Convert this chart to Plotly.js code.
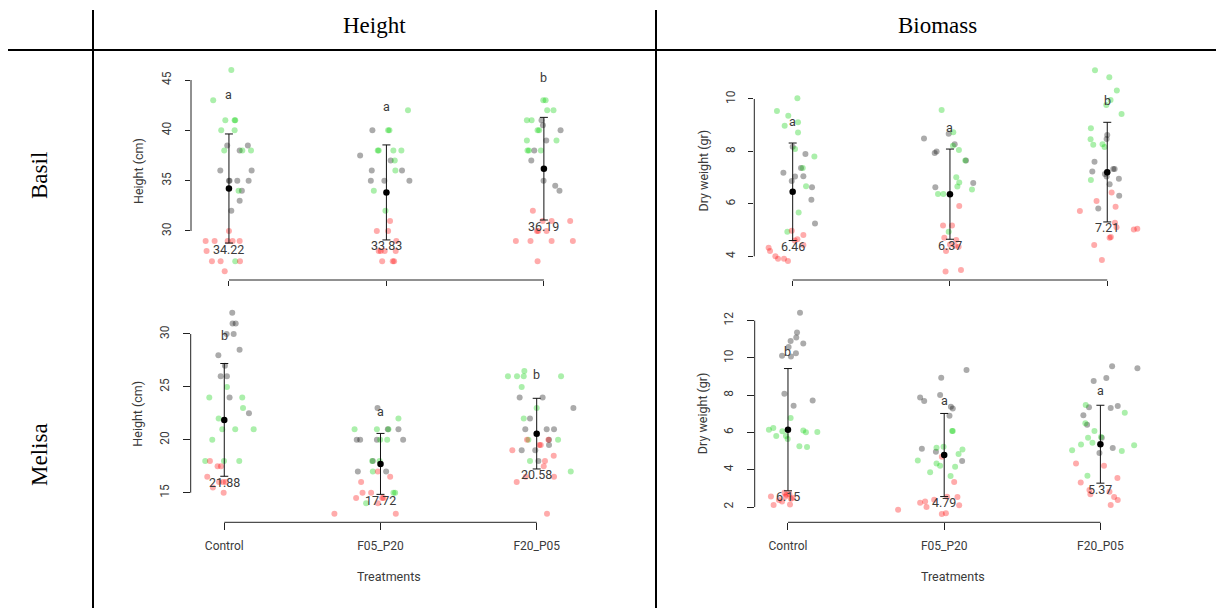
<!DOCTYPE html>
<html>
<head>
<meta charset="utf-8">
<script src="https://cdn.plot.ly/plotly-3.0.1.min.js"></script>
<style>html,body{margin:0;padding:0;background:#fff;}#chart{width:1216px;height:608px;}</style>
</head>
<body>
<div id="chart"></div>
<script>
// ---------------- DATA ----------------
const categories = ['Control', 'F05_P20', 'F20_P05'];
const rowLabels = ['Basil', 'Melisa'];
const colLabels = ['Height', 'Biomass'];
const xTitle = 'Treatments';
const yTitles = ['Height (cm)', 'Dry weight (gr)'];

// Basil - Height
const bhTicks = [30, 35, 40, 45];
const bhMeans = [34.22, 33.83, 36.19];
const bhSds = [5.42, 4.72, 5.10];
const bhLetters = ['a', 'a', 'b'];
const bhLetterY = [43.6, 42.35, 45.26];
const bhRedX = [0.00,-0.148,-0.091,-0.008,0.023,0.068,-0.142,-0.108,-0.053,0.07,-0.027, 1.023,0.939,1.011,1.063,0.951,0.964,0.989,1.059,0.973,1.04,1.049, 1.93,1.992,2.049,2.167,1.956,1.964,2.017,1.822,1.915,2.049,2.184,1.96];
const bhRedY = [30,29,29,29,29,29,28,27,27,27,26, 31,30,30,29,28,28,28,28,27,27,27, 32,31,31,31,30,30,30,29,29,29,29,27];
const bhGreenX = [0.015,-0.10,-0.023,0.036,0.04,-0.049,0.036,-0.03,0.085,0.14,0.061,0.04, 1.137,1.011,1.019,0.951,0.945,1.044,1.095,1.053,1.057,0.92,0.994, 1.996,2.011,2.021,2.061,1.892,1.922,1.96,1.97,1.892,2.08,1.896,1.905,1.981];
const bhGreenY = [46,43,41,41,41,40,40,38,38,38,34,27, 42,40,40,38,38,38,38,37,36,34,32, 43,43,42,42,41,41,40,40,39,39,38,38,38];
const bhGreyX = [-0.011,0.12,0.068,-0.055,0.144,0,0.004,0.053,0.125,0.082,0.068,0.015, 0.911,0.833,1.027,0.907,1.099,0.901,0.987,1.146, 1.985,1.994,2.106,2.015,1.939,1.92,1.998,2.072,2.099];
const bhGreyY = [38.5,38.5,38,36,36,35,35,35,35,34,33,32, 40,37.5,37,36,36,35,35,35, 41,40.5,40,39,38,37,35,34.5,34];

// Basil - Biomass
const bbTicks = [4, 6, 8, 10];
const bbMeans = [6.46, 6.37, 7.21];
const bbSds = [1.86, 1.72, 1.90];
const bbLetters = ['a', 'a', 'b'];
const bbLetterY = [9.14, 8.92, 9.96];
const bbRedX = [-0.153,-0.144,-0.11,-0.093,-0.055,-0.03,-0.006,0.03,0.068,0.068,0.013, 1.059,0.956,1.013,0.964,1.04,1.0,1.032,1.055,0.975,0.972,1.07, 2.028,1.932,2.053,1.826,2.049,2.059,2.169,2.191,2.023,2.015,1.917,1.966];
const bbRedY = [4.33,4.2,4.0,3.91,3.91,3.82,4.97,4.65,4.81,4.43,4.6, 5.92,5.17,5.17,4.71,4.62,4.45,4.4,4.36,4.2,3.42,3.48, 6.43,6.11,5.89,5.73,5.28,5.11,5.02,5.05,4.74,4.71,4.43,3.86];
const bbGreenX = [-0.034,0.038,0.085,0.064,0.138,0.015,0.034,0.034,-0.051,-0.028,-0.1,0.03, 0.947,1.021,1.019,1.057,1.097,1.04,1.059,1.047,0.924,0.958,1.14,0.992, 1.922,2.013,2.061,2.021,1.994,2.091,1.896,1.894,1.911,1.97,1.983,1.896];
const bbGreenY = [4.94,5.67,6.67,7.37,7.81,8.09,8.72,9.11,8.98,9.36,9.54,10.03, 9.58,8.73,8.22,8.05,7.65,7.01,6.81,6.66,6.38,6.38,6.55,4.94, 11.1,10.83,10.32,9.96,9.77,9.43,8.88,8.46,8.25,8.27,8.17,6.91];
const bbGreyX = [0.142,0.119,0.123,-0.059,-0.006,0.015,0.068,0.053,0.081,0, 0.992,0.835,0.915,0.903,1.03,1.102,1.148,0.907, 2.0,1.996,1.919,2.038,2.047,1.905,1.985,1.996,2.074,2.015,2.076,1.943];
const bbGreyY = [5.25,6.16,6.63,7.19,6.87,7.04,7.05,7.37,7.9,8.18, 8.67,8.49,8.0,7.94,8.27,7.65,6.8,6.63, 8.63,8.47,7.61,7.33,7.33,7.23,7.14,7.04,6.96,6.75,6.31,5.82];

// Melisa - Height
const mhTicks = [15, 20, 25, 30];
const mhMeans = [21.88, 17.72, 20.58];
const mhSds = [5.33, 2.88, 3.34];
const mhLetters = ['b', 'a', 'b'];
const mhLetterY = [29.84, 22.7, 26.2];
const mhRedX = [-0.092,-0.043,-0.021,-0.109,-0.034,-0.009,0.009,-0.073,-0.004, 0.983,1.062,0.876,0.885,0.94,0.844,1.011,1.019,0.983,0.705,1.098, 1.938,2.075,2.017,2.026,1.844,2.053,2.109,2.045,1.872,1.93,2.111,2.066];
const mhRedY = [18,17.5,17.5,16.5,16,16,16,15.5,15, 17,16.5,16,15,15,14.5,14.5,14.5,14,13,13, 20,20,19.5,19.5,19,18,18.5,17.5,16,16.5,16.5,13];
const mhGreenX = [0.017,-0.096,0.115,0.12,-0.036,-0.013,0.07,0.188,-0.077,-0.122,-0.002,0.096, 1.115,0.834,0.977,1.051,0.998,1.043,0.994,0.947,0.951,1.083,1.094,0.908, 1.816,1.874,1.917,1.921,2.156,1.904,2.0,1.917,1.947,2.137,1.957,2.218];
const mhGreenY = [25,24,24,23,22,21,21,21,20,18,18,18, 22,21,21,21,20,20,18,18,17,15,15,14, 26,26,26,26.5,26,25,23,22,20,20,18,17];
const mhGreyX = [0.051,0.053,0.073,0.015,0.06,0.098,-0.038,0.004,-0.023,0.017,0.034,0.158, 0.981,1.115,0.848,0.87,0.977,1.145,0.855,1.036,1.047,0.951, 1.891,2.038,2.235,1.957,1.927,2.064,2.111,2.079,2.079,1.904,1.991,2.011];
const mhGreyY = [32,31,31,30,30,28.5,28,27,26,26,24,22.5, 23,21,20,20,20,20,17,17,21,18, 24,24,23,22,21,21,21,20,19.5,19,19,18];

// Melisa - Biomass
const mbTicks = [2, 4, 6, 8, 10, 12];
const mbMeans = [6.15, 4.79, 5.37];
const mbSds = [3.28, 2.23, 2.09];
const mbLetters = ['b', 'a', 'a'];
const mbLetterY = [10.34, 7.74, 8.23];
const mbRedX = [-0.109,-0.092,-0.017,-0.009,-0.038,0.013,0.019,-0.023,0.009,-0.058,0.03, 0.985,1.064,0.936,1.019,1.085,0.846,0.878,0.887,1.096,0.705,0.985,1.011, 1.844,2.023,2.109,1.874,1.93,1.936,2.058,2.088,2.111,2.066];
const mbRedY = [2.57,2.11,2.55,2.66,2.29,2.13,2.45,2.77,2.7,2.38,2.5, 4.7,3.34,2.39,2.55,2.54,2.23,2.3,2.0,2.09,1.86,1.62,1.66, 4.33,4.22,3.56,3.31,2.91,2.68,2.82,2.54,2.38,2.11];
const mbGreenX = [0.017,-0.122,-0.094,-0.036,0.098,0.115,0.188,-0.075,-0.013,-0.002,0.073,0.122, 1.051,1.055,0.951,0.996,1.117,1.092,0.831,0.951,0.974,1.07,0.91,1.041, 1.906,2.156,1.904,1.962,1.921,2.004,1.876,1.949,1.819,2.137,2.216,1.917];
const mbGreenY = [6.78,6.15,6.24,6.06,6.1,6.01,6.03,5.81,5.81,5.65,5.26,5.22, 6.08,6.08,5.18,5.24,5.09,4.84,4.5,4.33,4.22,4.16,3.86,3.66, 7.47,7.06,6.49,6.08,5.72,5.76,5.36,5.45,5.04,5.0,5.31,3.68];
const mbGreyX = [0.077,0.058,0.053,0.017,0.004,0.098,-0.038,0.019,0.051,-0.023,0.158,0.036, 1.143,0.981,0.846,0.872,0.974,1.043,1.055,1.034,0.857,0.947,1.115, 2.075,2.237,2.038,1.957,1.927,2.066,2.111,1.891,1.915,2.009,2.079,1.994];
const mbGreyY = [12.43,11.36,11.1,10.91,10.59,10.78,10.12,10.07,10.25,8.08,7.72,7.44, 9.35,8.94,7.87,7.69,8.01,7.38,7.28,6.9,5.13,4.97,4.47, 9.55,9.44,8.92,8.76,7.35,7.31,7.42,6.92,6.42,5.72,5.17,4.9];

// ---------------- STYLE / LAYOUT ----------------
const W = 1216, H = 608;
const SANS = 'Roboto, "Liberation Sans", sans-serif';
const SERIF = '"Liberation Serif", "Times New Roman", serif';
const COL_RED = 'rgba(255,0,0,0.33)';
const COL_GREEN = 'rgba(0,205,0,0.33)';
const COL_GREY = 'rgba(0,0,0,0.33)';
const TXT = '#3a3a3a';

// pixel boxes of each panel: [left, right, top, bottom], x range, tick length
const panels = [
  {k: '', box: [191, 599, 62, 280], xr: [-0.241, 2.35], yr: [25.13, 46.79], tl: 5, bottom: false,
   ticks: bhTicks, means: bhMeans, sds: bhSds, letters: bhLetters, letterY: bhLetterY,
   red: [bhRedX, bhRedY], green: [bhGreenX, bhGreenY], grey: [bhGreyX, bhGreyY], yt: yTitles[0], ytx: 138},
  {k: '2', box: [754.3, 1162.3, 62, 280], xr: [-0.244, 2.35], yr: [3.096, 11.41], tl: 5, bottom: false,
   ticks: bbTicks, means: bbMeans, sds: bbSds, letters: bbLetters, letterY: bbLetterY,
   red: [bbRedX, bbRedY], green: [bbGreenX, bbGreenY], grey: [bbGreyX, bbGreyY], yt: yTitles[1], ytx: 702.5},
  {k: '3', box: [190.7, 587.3, 305, 522.3], xr: [-0.215, 2.324], yr: [12.2, 32.74], tl: 7, bottom: true,
   ticks: mhTicks, means: mhMeans, sds: mhSds, letters: mhLetters, letterY: mhLetterY,
   red: [mhRedX, mhRedY], green: [mhGreenX, mhGreenY], grey: [mhGreyX, mhGreyY], yt: yTitles[0], ytx: 138},
  {k: '4', box: [754.7, 1150.7, 305, 522.3], xr: [-0.213, 2.322], yr: [1.18, 12.84], tl: 7, bottom: true,
   ticks: mbTicks, means: mbMeans, sds: mbSds, letters: mbLetters, letterY: mbLetterY,
   red: [mbRedX, mbRedY], green: [mbGreenX, mbGreenY], grey: [mbGreyX, mbGreyY], yt: yTitles[1], ytx: 702.5}
];

const traces = [];
const shapes = [];
const annotations = [];
const layout = {
  width: W, height: H,
  margin: {l: 0, r: 0, t: 0, b: 0},
  paper_bgcolor: '#ffffff', plot_bgcolor: 'rgba(0,0,0,0)',
  showlegend: false,
  font: {family: SANS, size: 12, color: TXT}
};

function paperText(xpx, ypx, text, font, angle) {
  return {xref: 'paper', yref: 'paper', x: xpx / W, y: 1 - ypx / H, xanchor: 'center', yanchor: 'middle',
    text: text, textangle: angle || 0, showarrow: false, font: font};
}

panels.forEach(p => {
  const xa = 'x' + p.k, ya = 'y' + p.k;
  const [l, r, t, b] = p.box;
  const dx = [l / W, r / W];
  const dy = [1 - b / H, 1 - t / H];
  const tickfont = {family: SANS, size: 12, color: TXT};

  layout['xaxis' + p.k] = {
    domain: dx, range: p.xr, anchor: ya, fixedrange: true,
    tickmode: 'array', tickvals: [0, 1, 2], ticktext: categories,
    showticklabels: p.bottom, ticks: 'outside', ticklen: p.tl, tickwidth: 1, tickcolor: '#222',
    showline: false, showgrid: false, zeroline: false, tickfont: tickfont, ticklabelstandoff: 5
  };
  layout['yaxis' + p.k] = {
    domain: dy, range: p.yr, anchor: xa, fixedrange: true,
    tickmode: 'array', tickvals: p.ticks, tickangle: -90,
    ticks: 'outside', ticklen: p.tl, tickwidth: 1, tickcolor: '#222',
    showline: false, showgrid: false, zeroline: false, tickfont: tickfont, ticklabelstandoff: 9
  };

  [[p.grey, COL_GREY], [p.green, COL_GREEN], [p.red, COL_RED]].forEach(([d, c]) => {
    traces.push({
      type: 'scatter', mode: 'markers', x: d[0], y: d[1], xaxis: xa, yaxis: ya,
      marker: {size: 6, color: c, line: {width: 0}}, hoverinfo: 'skip'
    });
  });

  traces.push({
    type: 'scatter', mode: 'markers', x: [0, 1, 2], y: p.means, xaxis: xa, yaxis: ya,
    marker: {size: 6.5, color: '#000'},
    error_y: {type: 'data', array: p.sds, visible: true, color: '#111', thickness: 1, width: 4},
    hoverinfo: 'skip'
  });

  // R-style axis lines from first to last tick
  shapes.push({type: 'line', xref: xa + ' domain', yref: ya, x0: 0, x1: 0,
    y0: p.ticks[0], y1: p.ticks[p.ticks.length - 1], line: {color: '#222', width: 1}});
  shapes.push({type: 'line', xref: xa, yref: ya + ' domain', x0: 0, x1: categories.length - 1,
    y0: 0, y1: 0, line: {color: '#222', width: 1}});

  p.means.forEach((m, i) => {
    annotations.push({xref: xa, yref: ya, x: i, y: m - p.sds[i], yshift: -6, text: m.toFixed(2),
      xanchor: 'center', yanchor: 'middle', showarrow: false, font: {family: SANS, size: 12.5, color: TXT}});
    annotations.push({xref: xa, yref: ya, x: i, y: p.letterY[i], text: p.letters[i],
      xanchor: 'center', yanchor: 'middle', showarrow: false, font: {family: SANS, size: 12.5, color: TXT}});
  });

  annotations.push(paperText(p.ytx, H * (1 - (dy[0] + dy[1]) / 2), p.yt,
    {family: SANS, size: 12.5, color: TXT}, -90));
  if (p.bottom) {
    annotations.push(paperText((l + r) / 2, 576, xTitle, {family: SANS, size: 12.5, color: TXT}));
  }
});

// table frame
const frame = {color: '#000', width: 2};
shapes.push({type: 'line', xref: 'paper', yref: 'paper', x0: 93 / W, x1: 93 / W, y0: 0, y1: 1 - 10 / H, line: frame});
shapes.push({type: 'line', xref: 'paper', yref: 'paper', x0: 656 / W, x1: 656 / W, y0: 0, y1: 1 - 10 / H, line: frame});
shapes.push({type: 'line', xref: 'paper', yref: 'paper', x0: 8 / W, x1: 1, y0: 1 - 50 / H, y1: 1 - 50 / H, line: frame});

// header and row labels
const headFont = {family: SERIF, size: 23, color: '#000'};
annotations.push(paperText(374.5, 26, colLabels[0], headFont));
annotations.push(paperText(937, 26, colLabels[1], headFont));
annotations.push(paperText(39, 176, rowLabels[0], headFont, -90));
annotations.push(paperText(39, 455, rowLabels[1], headFont, -90));

layout.shapes = shapes;
layout.annotations = annotations;

Plotly.newPlot('chart', traces, layout, {displayModeBar: false, staticPlot: true});
</script>
</body>
</html>
